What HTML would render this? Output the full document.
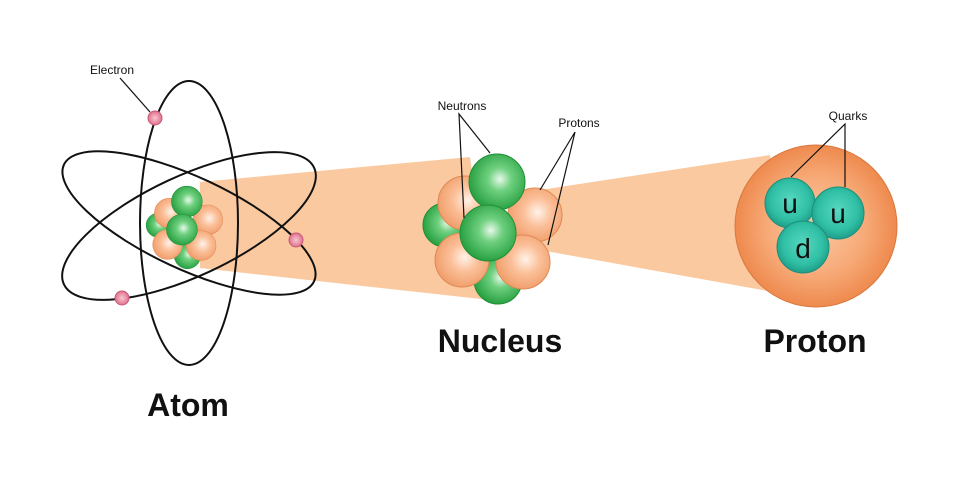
<!DOCTYPE html>
<html><head><meta charset="utf-8"><style>
html,body{margin:0;padding:0;background:#fff;}
svg{display:block;}
text{font-family:"Liberation Sans",sans-serif;fill:#111;}
</style></head><body>
<svg width="960" height="480" viewBox="0 0 960 480" xmlns="http://www.w3.org/2000/svg">
<defs>
<radialGradient id="gg" cx="0.55" cy="0.45" r="0.6">
<stop offset="0" stop-color="#e8f8ea"/><stop offset="0.35" stop-color="#6fd07f"/><stop offset="1" stop-color="#1f9a3a"/></radialGradient>
<radialGradient id="og" cx="0.55" cy="0.45" r="0.6">
<stop offset="0" stop-color="#fff2e8"/><stop offset="0.45" stop-color="#fbbf98"/><stop offset="1" stop-color="#ef9a66"/></radialGradient>
<radialGradient id="pg" cx="0.5" cy="0.5" r="0.5">
<stop offset="0" stop-color="#fbc9a4"/><stop offset="0.6" stop-color="#f7aa78"/><stop offset="1" stop-color="#ee8a4e"/></radialGradient>
<radialGradient id="tg" cx="0.5" cy="0.45" r="0.55">
<stop offset="0" stop-color="#58d8c0"/><stop offset="0.7" stop-color="#2fbfa5"/><stop offset="1" stop-color="#1f9d88"/></radialGradient>
<radialGradient id="eg" cx="0.5" cy="0.5" r="0.5">
<stop offset="0" stop-color="#f8c6d2"/><stop offset="1" stop-color="#e0708c"/></radialGradient>
<g id="nuc">
<circle cx="445" cy="225" r="22" fill="url(#gg)" stroke="#1f8f36" stroke-width="1"/>
<circle cx="498" cy="280" r="24" fill="url(#gg)" stroke="#1f8f36" stroke-width="1"/>
<circle cx="465" cy="203" r="27" fill="url(#og)" stroke="#e08a55" stroke-width="1"/>
<circle cx="535" cy="215" r="27" fill="url(#og)" stroke="#e08a55" stroke-width="1"/>
<circle cx="497" cy="182" r="28" fill="url(#gg)" stroke="#1f8f36" stroke-width="1"/>
<circle cx="462" cy="260" r="27" fill="url(#og)" stroke="#e08a55" stroke-width="1"/>
<circle cx="523" cy="262" r="27" fill="url(#og)" stroke="#e08a55" stroke-width="1"/>
<circle cx="488" cy="233" r="28" fill="url(#gg)" stroke="#1f8f36" stroke-width="1"/>
</g>
</defs>
<!-- beams -->
<polygon points="200,182 470,157 490,300 200,268" fill="#fbc9a0"/>
<polygon points="540,190 770,155 790,295 540,250" fill="#fbc9a0"/>
<!-- atom orbits -->
<g fill="none" stroke="#111" stroke-width="2">
<ellipse cx="189" cy="223" rx="49" ry="142"/>
<ellipse cx="189" cy="223" rx="138" ry="46" transform="rotate(25 189 223)"/>
<ellipse cx="189" cy="226" rx="138" ry="50" transform="rotate(-25 189 226)"/>
</g>
<!-- small nucleus -->
<use href="#nuc" transform="translate(183,228) scale(0.55) translate(-490,-230)"/>
<!-- electrons -->
<circle cx="155" cy="118" r="7" fill="url(#eg)" stroke="#c85a75"/>
<circle cx="296" cy="240" r="7" fill="url(#eg)" stroke="#c85a75"/>
<circle cx="122" cy="298" r="7" fill="url(#eg)" stroke="#c85a75"/>
<line x1="120" y1="78" x2="150" y2="112" stroke="#111" stroke-width="1.2"/>
<text x="112" y="74" font-size="12" text-anchor="middle">Electron</text>
<!-- big nucleus -->
<use href="#nuc"/>
<!-- proton -->
<circle cx="816" cy="226" r="81" fill="url(#pg)" stroke="#d9773f" stroke-width="1"/>
<circle cx="790" cy="203" r="25" fill="url(#tg)" stroke="#1a8f7c"/>
<circle cx="838" cy="213" r="26" fill="url(#tg)" stroke="#1a8f7c"/>
<circle cx="803" cy="247" r="26" fill="url(#tg)" stroke="#1a8f7c"/>
<text x="790" y="213" font-size="28" text-anchor="middle">u</text>
<text x="838" y="223" font-size="28" text-anchor="middle">u</text>
<text x="803" y="258" font-size="28" text-anchor="middle">d</text>
<!-- label lines -->
<g stroke="#111" stroke-width="1.2" fill="none">
<polyline points="490,153 459,114 464,218"/>
<polyline points="540,190 575,132 548,245"/>
<polyline points="791,177 845,124 845,187"/>
</g>
<text x="462" y="110" font-size="12" text-anchor="middle">Neutrons</text>
<text x="579" y="127" font-size="12" text-anchor="middle">Protons</text>
<text x="848" y="120" font-size="12" text-anchor="middle">Quarks</text>
<text x="188" y="416" font-size="32" text-anchor="middle" font-weight="bold">Atom</text>
<text x="500" y="352" font-size="32" text-anchor="middle" font-weight="bold">Nucleus</text>
<text x="815" y="352" font-size="32" text-anchor="middle" font-weight="bold">Proton</text>
</svg>
</body></html>
